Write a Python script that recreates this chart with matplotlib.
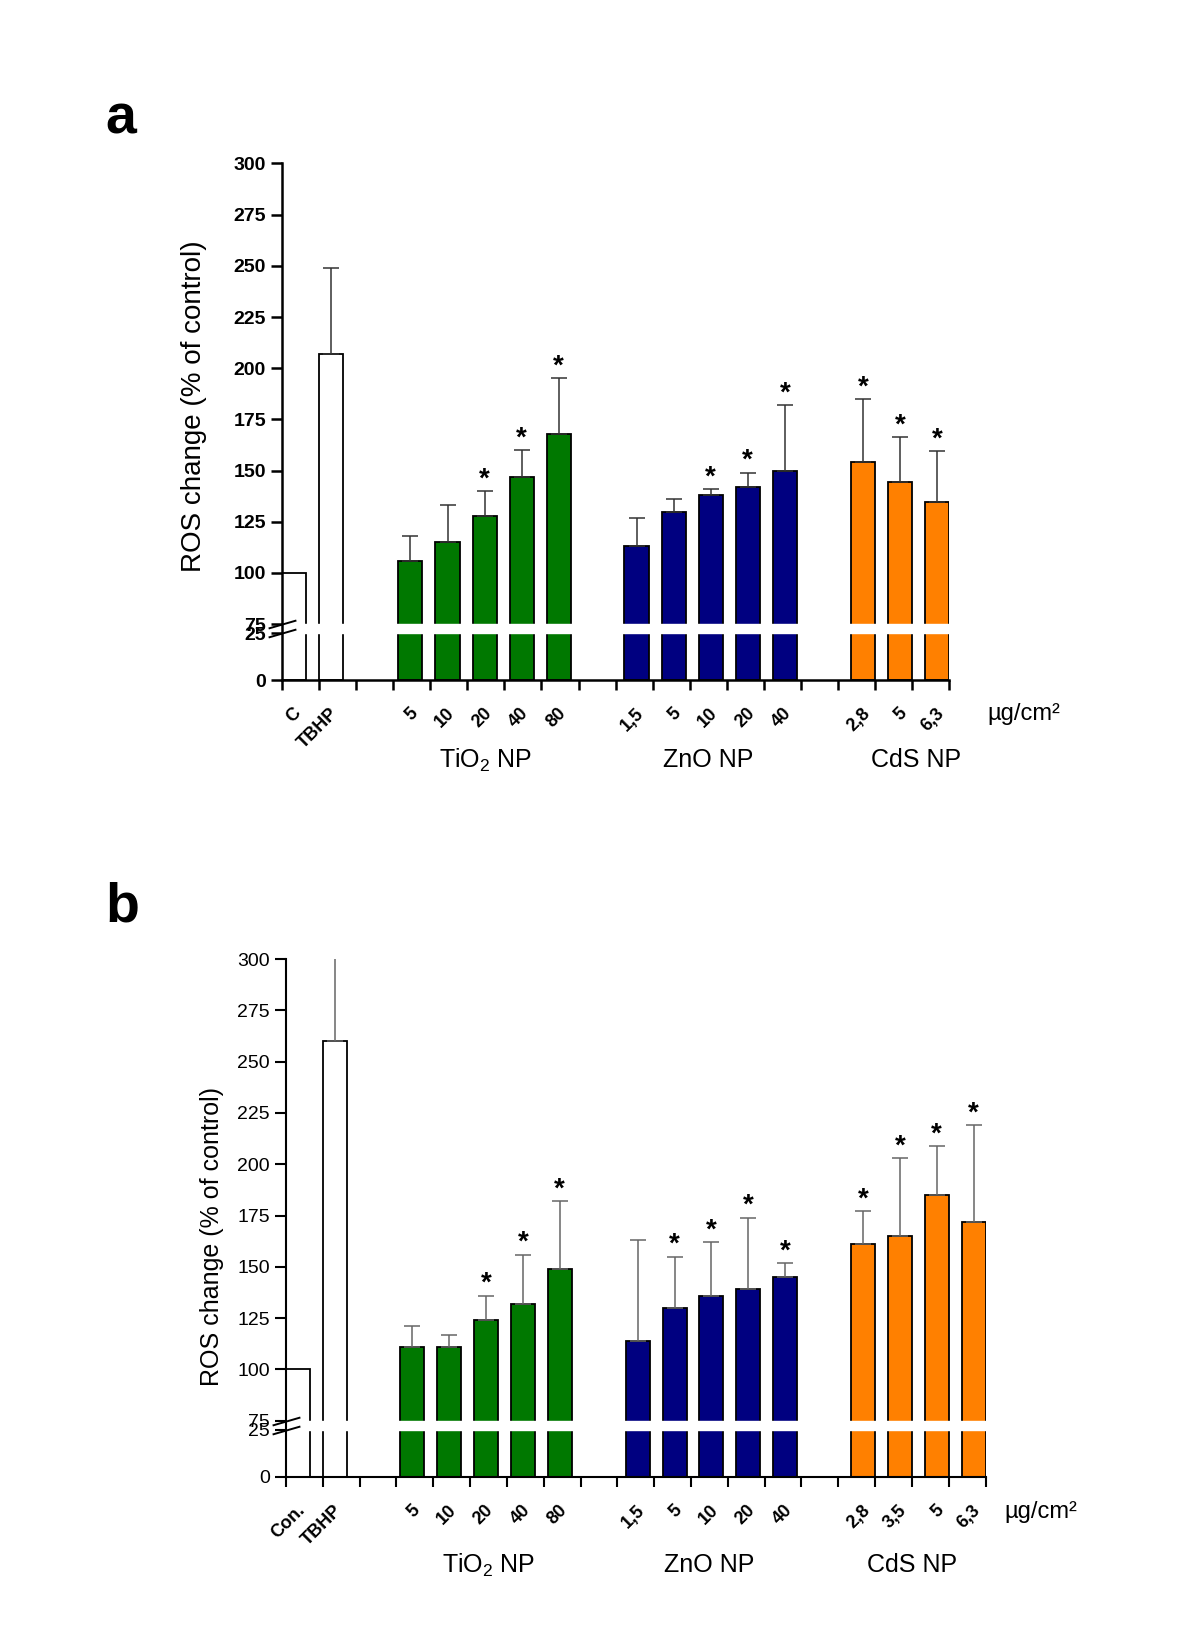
import matplotlib.pyplot as plt
import numpy as np

plt.rcParams['font.family'] = ['Liberation Sans', 'DejaVu Sans']
plt.rcParams['mathtext.fontset'] = 'custom'
plt.rcParams['mathtext.rm'] = 'Liberation Sans'

# ---- data, panel a ----
a_ctrl_lab = ['C', 'TBHP']
a_ctrl_val = [100, 207]
a_ctrl_err = [0, 42]
a_tio2_lab = ['5', '10', '20', '40', '80']
a_tio2_val = [106, 115, 128, 147, 168]
a_tio2_err = [12, 18, 12, 13, 27]
a_tio2_sig = [0, 0, 1, 1, 1]
a_zno_lab = ['1,5', '5', '10', '20', '40']
a_zno_val = [113, 130, 138, 142, 150]
a_zno_err = [14, 6, 3, 7, 32]
a_zno_sig = [0, 0, 1, 1, 1]
a_cds_lab = ['2,8', '5', '6,3']
a_cds_val = [154, 144.5, 134.5]
a_cds_err = [31, 22, 25]
a_cds_sig = [1, 1, 1]

# ---- data, panel b ----
b_ctrl_lab = ['Con.', 'TBHP']
b_ctrl_val = [100, 260]
b_ctrl_err = [0, 45]
b_tio2_lab = ['5', '10', '20', '40', '80']
b_tio2_val = [111, 111, 124, 132, 149]
b_tio2_err = [10, 6, 12, 24, 33]
b_tio2_sig = [0, 0, 1, 1, 1]
b_zno_lab = ['1,5', '5', '10', '20', '40']
b_zno_val = [114, 130, 136, 139, 145]
b_zno_err = [49, 25, 26, 35, 7]
b_zno_sig = [0, 1, 1, 1, 1]
b_cds_lab = ['2,8', '3,5', '5', '6,3']
b_cds_val = [161, 165, 185, 172]
b_cds_err = [16, 38, 24, 47]
b_cds_sig = [1, 1, 1, 1]

group_names = [r'TiO$_{\mathrm{2}}$ NP', 'ZnO NP', 'CdS NP']
yticks = [0, 25, 75, 100, 125, 150, 175, 200, 225, 250, 275, 300]

# broken y axis: 25..75 squeezed into a small gap
K_LOW = 0.92
GAP = 4.4
LO = 25 * K_LOW

def fwd(v):
    v = np.asarray(v, float)
    return np.where(v <= 25, v * K_LOW,
                    np.where(v < 75, LO + (v - 25) / 50. * GAP, LO + GAP + (v - 75)))

def inv(u):
    u = np.asarray(u, float)
    return np.where(u <= LO, u / K_LOW,
                    np.where(u < LO + GAP, 25 + (u - LO) / GAP * 50., u - LO - GAP + 75))

W = 0.65

def draw_panel(ax, groups, n_slots, ecol, bold, axlw):
    ax.set_yscale('function', functions=(fwd, inv))
    minor_pos, minor_lab = [], []
    for start, off, vals, errs, sig, labs, color in groups:
        x = start + off + np.arange(len(vals))
        ax.bar(x, vals, width=W, align='edge', color=color, edgecolor='black',
               linewidth=1.3, zorder=1)
        xc = x + W / 2
        errs = np.asarray(errs, float)
        m = errs > 0
        ax.errorbar(xc[m], np.asarray(vals)[m], yerr=[np.zeros(m.sum()), errs[m]],
                    fmt='none', ecolor=ecol, elinewidth=1.1, capsize=6, capthick=1.1,
                    zorder=1.5)
        for xi, v, e, s in zip(xc, vals, errs, sig):
            if s:
                ax.annotate('*', (xi, v + e), xytext=(0, -1), textcoords='offset points',
                            ha='center', va='bottom', fontsize=20, fontweight='bold')
        minor_pos += list(xc + 0.12)
        minor_lab += labs

    # white break across bars
    ax.axhspan(25, 75, color='white', zorder=2)
    for yb in (25, 75):
        ax.plot([0], [yb], transform=ax.get_yaxis_transform(), clip_on=False,
                marker=[(-9, -2.6), (9, 2.6)], markersize=20, color='black',
                markeredgewidth=1.4, zorder=4)

    ax.set_xlim(0, n_slots)
    ax.set_ylim(0, 300)
    ax.set_xticks(np.arange(n_slots + 1))
    ax.set_xticklabels([])
    ax.set_xticks(minor_pos, minor=True)
    ax.set_xticklabels(minor_lab, minor=True, rotation=45, ha='right', va='center',
                       rotation_mode='anchor', fontsize=13, fontweight='bold')
    ax.tick_params(axis='x', which='minor', length=0, pad=22)
    ax.tick_params(axis='x', which='major', length=7, width=axlw, direction='out')
    ax.set_yticks(yticks)
    ax.set_yticklabels([str(t) for t in yticks], fontsize=14,
                       fontweight='bold' if bold else 'normal')
    ax.tick_params(axis='y', length=8, width=axlw, direction='out')
    ax.yaxis.set_minor_locator(plt.NullLocator())
    for s in ('top', 'right'):
        ax.spines[s].set_visible(False)
    for s in ('left', 'bottom'):
        ax.spines[s].set_linewidth(axlw)
    return ax


fig = plt.figure(figsize=(12, 16.51), dpi=100)

# panel a
ax1 = fig.add_axes([0.235, 0.588, 0.556, 0.313])
groups_a = [
    (0, 0.0, a_ctrl_val, a_ctrl_err, [0, 0], a_ctrl_lab, 'white'),
    (3, 0.14, a_tio2_val, a_tio2_err, a_tio2_sig, a_tio2_lab, '#007800'),
    (9, 0.24, a_zno_val, a_zno_err, a_zno_sig, a_zno_lab, '#000080'),
    (15, 0.35, a_cds_val, a_cds_err, a_cds_sig, a_cds_lab, '#FF8000'),
]
draw_panel(ax1, groups_a, 18, '#333333', True, 1.8)
ax1.set_ylabel('ROS change (% of control)', fontsize=20)
ax1.yaxis.set_label_coords(-0.112, 0.53)
for xg, name in zip([5.5, 11.5, 17.1], group_names):
    ax1.text(xg, -0.155, name, transform=ax1.get_xaxis_transform(), ha='center',
             va='center', fontsize=18)
ax1.text(20.0, -0.066, 'µg/cm²', transform=ax1.get_xaxis_transform(), ha='center',
         va='center', fontsize=17)

# panel b
ax2 = fig.add_axes([0.2383, 0.1054, 0.583, 0.3137])
groups_b = [
    (0, 0.0, b_ctrl_val, b_ctrl_err, [0, 0], b_ctrl_lab, 'white'),
    (3, 0.11, b_tio2_val, b_tio2_err, b_tio2_sig, b_tio2_lab, '#007800'),
    (9, 0.23, b_zno_val, b_zno_err, b_zno_sig, b_zno_lab, '#000080'),
    (15, 0.35, b_cds_val, b_cds_err, b_cds_sig, b_cds_lab, '#FF8000'),
]
draw_panel(ax2, groups_b, 19, '#666666', False, 1.5)
ax2.set_ylabel('ROS change (% of control)', fontsize=18)
ax2.yaxis.set_label_coords(-0.089, 0.465)
for xg, name in zip([5.5, 11.5, 17.0], group_names):
    ax2.text(xg, -0.17, name, transform=ax2.get_xaxis_transform(), ha='center',
             va='center', fontsize=18)
ax2.text(20.5, -0.068, 'µg/cm²', transform=ax2.get_xaxis_transform(), ha='center',
         va='center', fontsize=17)

fig.text(0.0875, 0.919, 'a', fontsize=40, fontweight='bold')
fig.text(0.0875, 0.4416, 'b', fontsize=40, fontweight='bold')

fig.savefig('out.png', dpi=100)
